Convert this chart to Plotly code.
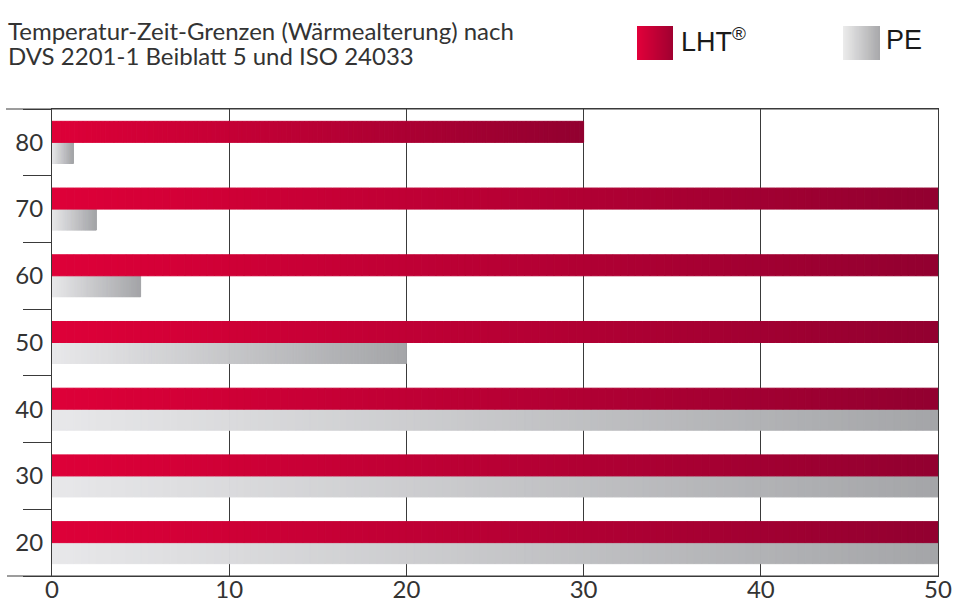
import plotly.graph_objects as go

# ---- data ----
categories = ["20", "30", "40", "50", "60", "70", "80"]
lht_values = [50, 50, 50, 50, 50, 50, 30]
pe_values = [50, 50, 50, 20, 5, 2.5, 1.2]
x_ticks = [0, 10, 20, 30, 40, 50]
series_names = ["LHT®", "PE"]
title_lines = ["Temperatur-Zeit-Grenzen (Wärmealterung) nach",
               "DVS 2201-1 Beiblatt 5 und ISO 24033"]

# ---- style ----
W, H = 972, 603
L, R, T, B = 52, 34, 109, 27
N = 120  # gradient segments per bar
LHT_C0, LHT_C1 = (222, 0, 56), (146, 0, 48)
PE_C0, PE_C1 = (232, 232, 234), (164, 165, 168)
AX = "#3a3a3a"
TXT = "#333333"


def lerp(c0, c1, t):
    c = [int(round(a + (b - a) * t)) for a, b in zip(c0, c1)]
    return f"rgb({c[0]},{c[1]},{c[2]})"


fig = go.Figure()

for name, vals, c0, c1, grp in [("PE", pe_values, PE_C0, PE_C1, "pe"),
                                ("LHT", lht_values, LHT_C0, LHT_C1, "lht")]:
    for k in range(N):
        t = (k + 0.5) / N
        col = lerp(c0, c1, t)
        fig.add_trace(go.Bar(
            y=categories,
            x=[v / N for v in vals],
            base=[k * v / N for v in vals],
            orientation="h",
            offsetgroup=grp,
            marker=dict(color=col, line=dict(width=1, color=col)),
            showlegend=False,
            hoverinfo="skip",
            name=name,
        ))

plot_w = W - L - R
plot_h = H - T - B


def px_x(p):
    return (p - L) / plot_w


def px_y(p):
    return (H - B - p) / plot_h


shapes = []
# extended top & bottom lines
shapes.append(dict(type="line", xref="paper", yref="paper", x0=px_x(6), x1=1,
                   y0=1, y1=1, line=dict(color=AX, width=1)))
shapes.append(dict(type="line", xref="paper", yref="paper", x0=px_x(7), x1=1,
                   y0=0, y1=0, line=dict(color=AX, width=1)))


# legend gradient squares
def grad_square(x0, x1, y0, y1, c0, c1, n=36):
    out = []
    for i in range(n):
        a = x0 + (x1 - x0) * i / n
        b = x0 + (x1 - x0) * (i + 1) / n + 1.0
        col = lerp(c0, c1, (i + 0.5) / n)
        out.append(dict(type="rect", xref="paper", yref="paper",
                        x0=px_x(a), x1=px_x(min(b, x1)), y0=px_y(y1), y1=px_y(y0),
                        fillcolor=col, line=dict(width=0),
                        layer="above"))
    return out


shapes += grad_square(637, 673, 26, 60, (226, 0, 58), (160, 0, 48))
shapes += grad_square(843, 880, 26, 60, (236, 236, 236), (168, 168, 170))

annotations = [
    dict(text=title_lines[0], xref="paper", yref="paper", x=px_x(6), y=px_y(30),
         xanchor="left", yanchor="middle", showarrow=False,
         font=dict(family="Lato", size=24, color=TXT)),
    dict(text=title_lines[1], xref="paper", yref="paper", x=px_x(6), y=px_y(55),
         xanchor="left", yanchor="middle", showarrow=False,
         font=dict(family="Lato", size=24, color=TXT)),
    dict(text="LHT<sup>®</sup>", xref="paper", yref="paper", x=px_x(679), y=px_y(40),
         xanchor="left", yanchor="middle", showarrow=False,
         font=dict(family="Liberation Sans", size=27, color="#1a1a1a")),
    dict(text=series_names[1], xref="paper", yref="paper", x=px_x(884), y=px_y(40),
         xanchor="left", yanchor="middle", showarrow=False,
         font=dict(family="Liberation Sans", size=27, color="#1a1a1a")),
]

fig.update_layout(
    width=W, height=H,
    margin=dict(l=L, r=R, t=T, b=B, pad=0, autoexpand=False),
    paper_bgcolor="white", plot_bgcolor="white",
    barmode="group", bargap=0.37, bargroupgap=0,
    showlegend=False,
    shapes=shapes,
    annotations=annotations,
    font=dict(family="Lato", color=TXT),
)

fig.update_xaxes(
    range=[0, 50], tickvals=x_ticks, ticktext=[str(v) for v in x_ticks],
    showgrid=True, gridcolor=AX, gridwidth=1, zeroline=False,
    showline=True, linecolor=AX, linewidth=1, mirror=True,
    ticks="", ticklabelstandoff=-8, automargin=False,
    tickfont=dict(family="Lato", size=24, color=TXT),
    fixedrange=True,
)
fig.update_yaxes(
    type="category", categoryorder="array", categoryarray=categories,
    tickson="boundaries", ticks="outside", ticklen=28, tickcolor=AX, tickwidth=1,
    showline=True, linecolor=AX, linewidth=1, mirror=True,
    showgrid=False, zeroline=False, automargin=False,
    ticklabelstandoff=3,
    tickfont=dict(family="Lato", size=24, color=TXT),
    fixedrange=True,
)

fig.write_html("out.html")
